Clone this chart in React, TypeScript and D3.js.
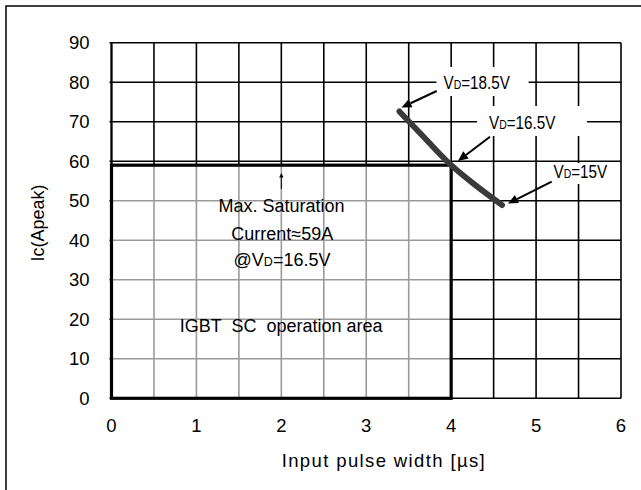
import React from "react";
import * as d3 from "d3";

const xTicks = [0, 1, 2, 3, 4, 5, 6];
const yTicks = [0, 10, 20, 30, 40, 50, 60, 70, 80, 90];
const curveX = [3.39, 3.7, 4.0, 4.3, 4.6];
const curveY = [72.6, 65.6, 59, 53.7, 48.9];
const vdLabels = ["18.5V", "16.5V", "15V"];
const socWidth = 4; // µs
const socCurrent = 59; // A

const W = 641;
const H = 490;
const FONT = "'Liberation Sans', Arial, sans-serif";

export default function App() {
  const x = d3.scaleLinear().domain([0, 6]).range([111.5, 621]);
  const y = d3.scaleLinear().domain([0, 90]).range([398.3, 42.7]);
  const minor = d3.range(0, 6.01, 0.5);

  const line = d3
    .line<number>()
    .x((_, i) => x(curveX[i]))
    .y((_, i) => y(curveY[i]))
    .curve(d3.curveMonotoneX);

  const gray = "#9a9a9a";

  const arrow = (x1: number, y1: number, x2: number, y2: number, key: string, hl = 10, hw = 4.5, sw = 2) => {
    const dx = x2 - x1, dy = y2 - y1;
    const L = Math.hypot(dx, dy);
    const ux = dx / L, uy = dy / L;
    const bx = x2 - ux * hl, by = y2 - uy * hl;
    const p = [
      [x2, y2],
      [bx - uy * hw, by + ux * hw],
      [bx + uy * hw, by - ux * hw],
    ];
    return (
      <g key={key}>
        <line x1={x1} y1={y1} x2={bx} y2={by} stroke="#000" strokeWidth={sw} />
        <polygon points={p.map((q) => q.join(",")).join(" ")} fill="#000" />
      </g>
    );
  };

  const vdText = (tx: number, ty: number, v: string, key: string) => (
    <text
      key={key}
      transform={`translate(${tx},${ty}) scale(0.87,1)`}
      fontSize={17.5}
      fontFamily={FONT}
      fill="#000"
    >
      <tspan>V</tspan>
      <tspan fontSize={12}>D</tspan>
      <tspan>=</tspan>
      <tspan>{v}</tspan>
    </text>
  );

  return (
    <svg width={W} height={H} style={{ position: "absolute", left: 0, top: 0, background: "#fff" }}>
      <rect x={0} y={0} width={W} height={H} fill="#fff" />
      {/* outer frame (right/bottom off-canvas) */}
      <rect x={6} y={6} width={800} height={600} fill="none" stroke="#000" strokeWidth={1.5} />

      {/* black grid over full area */}
      {minor.map((v) => (
        <line key={"vx" + v} x1={x(v)} x2={x(v)} y1={y(90)} y2={y(0)} stroke="#000" strokeWidth={1.6} />
      ))}
      {yTicks.map((v) => (
        <line key={"hy" + v} x1={x(0) - 2} x2={x(6)} y1={y(v)} y2={y(v)} stroke="#000" strokeWidth={1.6} />
      ))}

      {/* SC operation area */}
      <rect x={x(0)} y={y(socCurrent)} width={x(socWidth) - x(0)} height={y(0) - y(socCurrent)} fill="#fff" />
      {minor.filter((v) => v > 0 && v < socWidth).map((v) => (
        <line key={"gvx" + v} x1={x(v)} x2={x(v)} y1={y(socCurrent)} y2={y(0)} stroke={gray} strokeWidth={1.6} />
      ))}
      {yTicks.filter((v) => v > 0 && v < socCurrent).map((v) => (
        <line key={"ghy" + v} x1={x(0)} x2={x(socWidth)} y1={y(v)} y2={y(v)} stroke={gray} strokeWidth={1.6} />
      ))}
      <line x1={x(0)} x2={x(0)} y1={y(90)} y2={y(0)} stroke="#000" strokeWidth={2} />
      <rect x={x(0)} y={y(socCurrent)} width={x(socWidth) - x(0)} height={y(0) - y(socCurrent)} fill="none" stroke="#000" strokeWidth={3.2} />

      {/* label white boxes */}
      <rect x={436.5} y={67} width={92} height={29} fill="#fff" />
      <rect x={477} y={106} width={110} height={30} fill="#fff" />
      <rect x={547} y={163} width={70} height={21} fill="#fff" />

      {/* curve */}
      <path d={line(curveX) || ""} fill="none" stroke="#3a3a3a" strokeWidth={5.8} strokeLinecap="round" />

      {/* VD labels and arrows */}
      {vdText(443.5, 88.5, vdLabels[0], "l1")}
      {vdText(489, 129.3, vdLabels[1], "l2")}
      {vdText(553.5, 177.7, vdLabels[2], "l3")}
      {arrow(436.7, 91, 401.5, 107.5, "a1")}
      {arrow(490, 136.7, 458, 161, "a2")}
      {arrow(551.7, 181.7, 508, 203.5, "a3")}

      {/* saturation marker */}
      {arrow(x(2), 189, x(2), 173, "a4", 4.5, 2.2, 1)}

      {/* annotations */}
      <g fontFamily={FONT} fontSize={18} textAnchor="middle" fill="#000">
        <text x={281.5} y={212.3}>Max. Saturation</text>
        <text x={282.3} y={240}>Current≈59A</text>
        <text x={282} y={266}>
          <tspan>@V</tspan>
          <tspan fontSize={12.5}>D</tspan>
          <tspan>=16.5V</tspan>
        </text>
        <text x={281.2} y={332.3} style={{ whiteSpace: "pre" }}>
          {"IGBT  SC  operation area"}
        </text>
      </g>

      {/* tick labels */}
      <g fontFamily={FONT} fontSize={18.5} fill="#000">
        {yTicks.map((v) => (
          <text key={"yl" + v} x={89.5} y={y(v) + 6.6} textAnchor="end">
            {v}
          </text>
        ))}
        {xTicks.map((v) => (
          <text key={"xl" + v} x={x(v)} y={431.7} textAnchor="middle">
            {v}
          </text>
        ))}
      </g>

      {/* axis titles */}
      <text
        x={281.7}
        y={466.7}
        fontFamily={FONT}
        fontSize={18.5}
        fill="#000"
        textLength={203}
        lengthAdjust="spacing"
      >
        Input pulse width [µs]
      </text>
      <text
        transform={`translate(43.5, 223) rotate(-90)`}
        textAnchor="middle"
        fontFamily={FONT}
        fontSize={18}
        fill="#000"
      >
        Ic(Apeak)
      </text>
    </svg>
  );
}
